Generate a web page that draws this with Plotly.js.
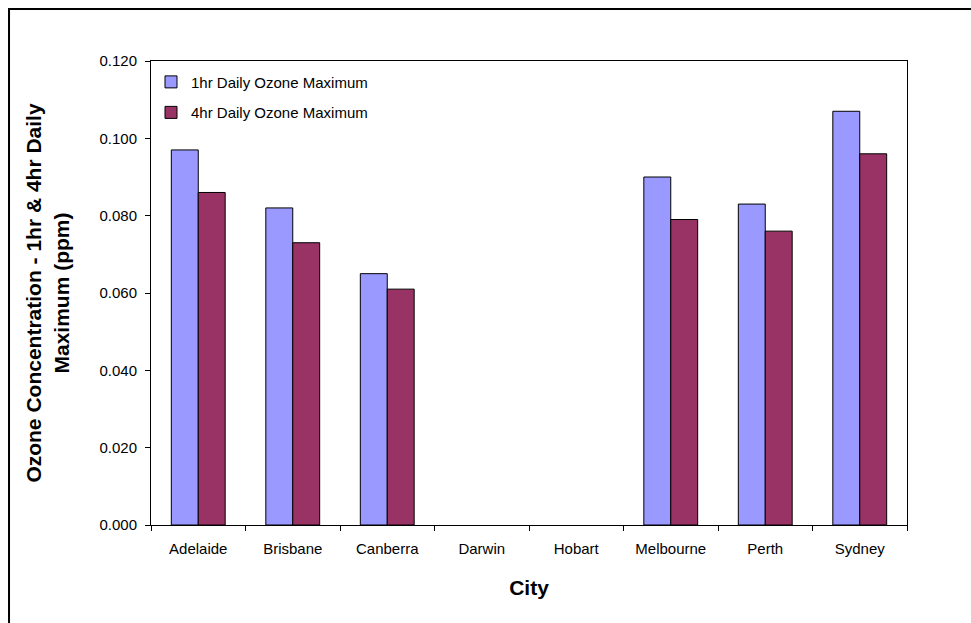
<!DOCTYPE html>
<html>
<head>
<meta charset="utf-8">
<script src="https://cdn.plot.ly/plotly-3.0.1.min.js"></script>
<style>
  html, body { margin: 0; padding: 0; background: #ffffff; }
  #chart { width: 971px; height: 623px; }
</style>
</head>
<body>
<div id="chart"></div>
<script>
// Ozone concentration by city (ppm)
const cities = ["Adelaide", "Brisbane", "Canberra", "Darwin", "Hobart", "Melbourne", "Perth", "Sydney"];
const oneHourMax = [0.097, 0.082, 0.065, null, null, 0.090, 0.083, 0.107];
const fourHourMax = [0.086, 0.073, 0.061, null, null, 0.079, 0.076, 0.096];
const yTicks = [0, 0.02, 0.04, 0.06, 0.08, 0.10, 0.12];

const font = "Arial, 'Liberation Sans', sans-serif";

const traces = [
  {
    type: "bar",
    name: "1hr Daily Ozone Maximum",
    x: cities,
    y: oneHourMax,
    legendgroup: "a",
    marker: { color: "#9999FF", line: { color: "#000000", width: 1 } }
  },
  {
    type: "bar",
    name: "4hr Daily Ozone Maximum",
    x: cities,
    y: fourHourMax,
    legendgroup: "b",
    marker: { color: "#993366", line: { color: "#000000", width: 1 } }
  }
];

const layout = {
  width: 971,
  height: 623,
  margin: { l: 151, r: 64, t: 61, b: 98 },
  paper_bgcolor: "#ffffff",
  plot_bgcolor: "#ffffff",
  font: { family: font, size: 15, color: "#000000" },
  barmode: "group",
  bargap: 0.43,
  bargroupgap: 0,
  showlegend: true,
  legend: {
    x: 0.0, y: 0.99, xanchor: "left", yanchor: "top",
    bgcolor: "rgba(0,0,0,0)",
    borderwidth: 0,
    tracegroupgap: 8,
    font: { family: font, size: 15, color: "#000000" }
  },
  xaxis: {
    type: "category",
    categoryarray: cities,
    showline: true, linecolor: "#000000", linewidth: 1, mirror: true,
    ticks: "outside", tickson: "boundaries", ticklen: 5, tickcolor: "#000000",
    ticklabelstandoff: 10,
    showgrid: false, zeroline: false,
    tickfont: { family: font, size: 15, color: "#000000" },
    title: { text: "City", font: { family: font, size: 21, color: "#000000", weight: "bold" }, standoff: 24 }
  },
  yaxis: {
    range: [0, 0.12],
    tickvals: yTicks,
    tickformat: ".3f",
    showline: true, linecolor: "#000000", linewidth: 1, mirror: true,
    ticks: "outside", ticklen: 5, tickcolor: "#000000",
    ticklabelstandoff: 5,
    showgrid: false, zeroline: false,
    tickfont: { family: font, size: 15, color: "#000000" },
    title: {
      text: "Ozone Concentration - 1hr & 4hr Daily<br>Maximum (ppm)",
      font: { family: font, size: 21, color: "#000000", weight: "bold" },
      standoff: 24
    }
  },
  shapes: [
    {
      type: "rect", xref: "paper", yref: "paper",
      x0: -0.1878, x1: 1.3, y0: -0.4, y1: 1.112,
      line: { color: "#000000", width: 2 }, fillcolor: "rgba(0,0,0,0)"
    }
  ]
};

Plotly.newPlot("chart", traces, layout, { displayModeBar: false, staticPlot: true });
</script>
</body>
</html>
